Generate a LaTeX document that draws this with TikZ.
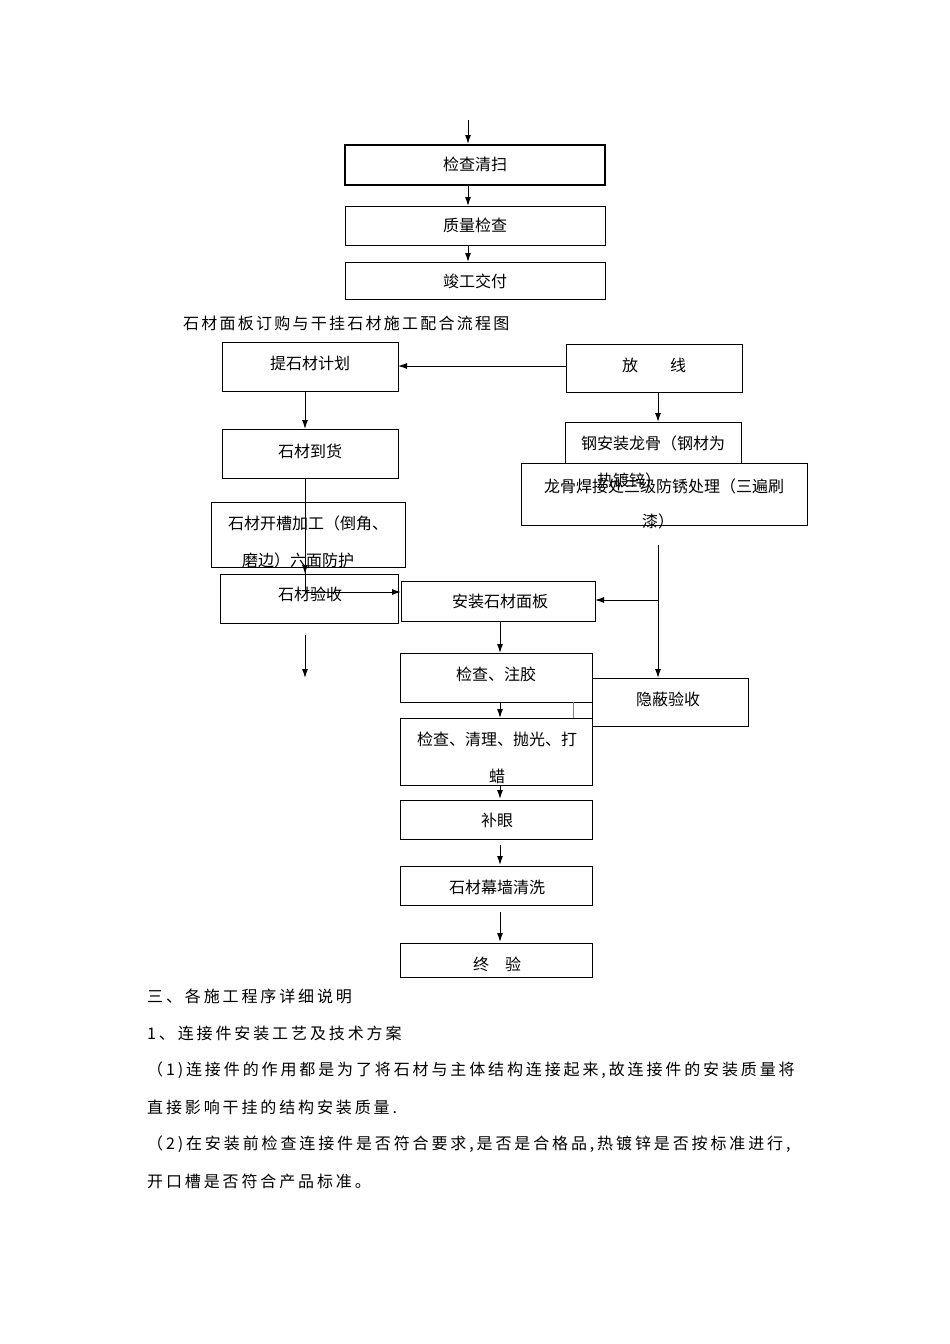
\documentclass[tikz,border=0pt]{standalone}
\usepackage{fontspec}
\setmainfont{Noto Sans CJK SC}
\usetikzlibrary{arrows.meta}
\begin{document}
\begin{tikzpicture}[x=1pt,y=-1pt,
  bx/.style={draw,line width=0.8pt},
  lb/.style={font=\fontsize{16}{18}\selectfont,inner sep=0pt},
  ar/.style={-{Latex[length=9pt,width=6pt]},line width=1pt},
  ln/.style={line width=1pt}]
\useasboundingbox (0,0) rectangle (950,1344);
% top boxes
\draw[bx,line width=1.2pt] (345,145) rectangle (605,185);
\draw[bx] (345,206) rectangle (605,245);
\draw[bx] (345,262) rectangle (605,299);
\node[lb] (a1) at (475,164) {检查清扫};
\node[lb] (a2) at (475,225) {质量检查};
\node[lb] (a3) at (475,281) {竣工交付};
\coordinate (t0) at (468,120);
\coordinate (t1) at (468,144);
\draw[ar] (t0) -- (t1);
\draw[ar] (468,185) -- (468,206);
\draw[ar] (468,245) -- (468,262);
\node[lb,anchor=west,font=\fontsize{16}{18}\selectfont\addfontfeatures{LetterSpace=14}] (title) at (183,323) {石材面板订购与干挂石材施工配合流程图};
% left column
\draw[bx] (222,342) rectangle (398,391);
\node[lb] (b1) at (310,363) {提石材计划};
\draw[bx] (222,429) rectangle (398,478);
\node[lb] (b2) at (310,451) {石材到货};
\draw[bx] (211,502) rectangle (405,567);
\node[lb] at (308,523) {石材开槽加工（倒角、};
\node[lb] at (298,560) {磨边）六面防护};
\draw[bx] (220,574) rectangle (398,623);
\node[lb] (b4) at (310,594) {石材验收};
% right column
\draw[bx] (566,344) rectangle (742,392);
\node[lb] (c1) at (654,365) {放\qquad 线};
\draw[bx] (565,422) rectangle (741,463);
\node[lb] at (653,443) {钢安装龙骨（钢材为};
\node[lb] at (629,480) {热镀锌）};
\draw[bx] (521,463) rectangle (807,525);
\node[lb] at (664,486) {龙骨焊接处三级防锈处理（三遍刷};
\node[lb] at (658,521) {漆）};
% center column
\draw[bx] (401,581) rectangle (595,621);
\node[lb] (d1) at (500,601) {安装石材面板};
\draw[bx] (400,653) rectangle (592,702);
\node[lb] (d2) at (496,674) {检查、注胶};
\draw[bx] (592,678) rectangle (748,726);
\node[lb] (e1) at (668,699) {隐蔽验收};
\draw[bx] (400,718) rectangle (592,785);
\node[lb] at (497,739) {检查、清理、抛光、打};
\node[lb] at (497,776) {蜡};
\draw[bx] (400,800) rectangle (592,839);
\node[lb] (d4) at (497,820) {补眼};
\draw[bx] (400,866) rectangle (592,905);
\node[lb] (d5) at (497,887) {石材幕墙清洗};
\draw[bx] (400,943) rectangle (592,977);
\node[lb] (d6) at (497,964) {终\quad 验};
% connectors
\draw[ar] (566,366) -- (398,366);
\draw[ar] (305,391) -- (305,429);
\draw[ar] (658,392) -- (658,422);
\draw[ln] (305,478) -- (305,592);
\draw[ar] (305,560) -- (305,574);
\draw[ar] (305,592) -- (401,592);
\coordinate (f0) at (305,635);
\coordinate (f1) at (305,678);
\draw[ar] (f0) -- (f1);
\draw[ln] (658,545) -- (658,600);
\draw[ar] (658,600) -- (595,600);
\draw[ar] (658,600) -- (658,678);
\draw[ar] (500,621) -- (500,653);
\draw[ln,gray] (573,702) -- (573,718);
\draw[ar] (500,702) -- (500,718);
\draw[ar] (500,785) -- (500,799);
\draw[ar] (500,845) -- (500,865);
\draw[ar] (500,912) -- (500,942);
% text
\begin{scope}[every node/.style={anchor=west,inner sep=0pt,font=\fontsize{16}{18}\selectfont\addfontfeatures{LetterSpace=18}}]
\node at (147,996) {三、各施工程序详细说明};
\node at (147,1033) {1、连接件安装工艺及技术方案};
\node at (147,1070) {（1)连接件的作用都是为了将石材与主体结构连接起来,故连接件的安装质量将};
\node at (147,1107) {直接影响干挂的结构安装质量.};
\node at (147,1144) {（2)在安装前检查连接件是否符合要求,是否是合格品,热镀锌是否按标准进行,};
\node at (147,1181) {开口槽是否符合产品标准。};
\end{scope}
\end{tikzpicture}
\end{document}
